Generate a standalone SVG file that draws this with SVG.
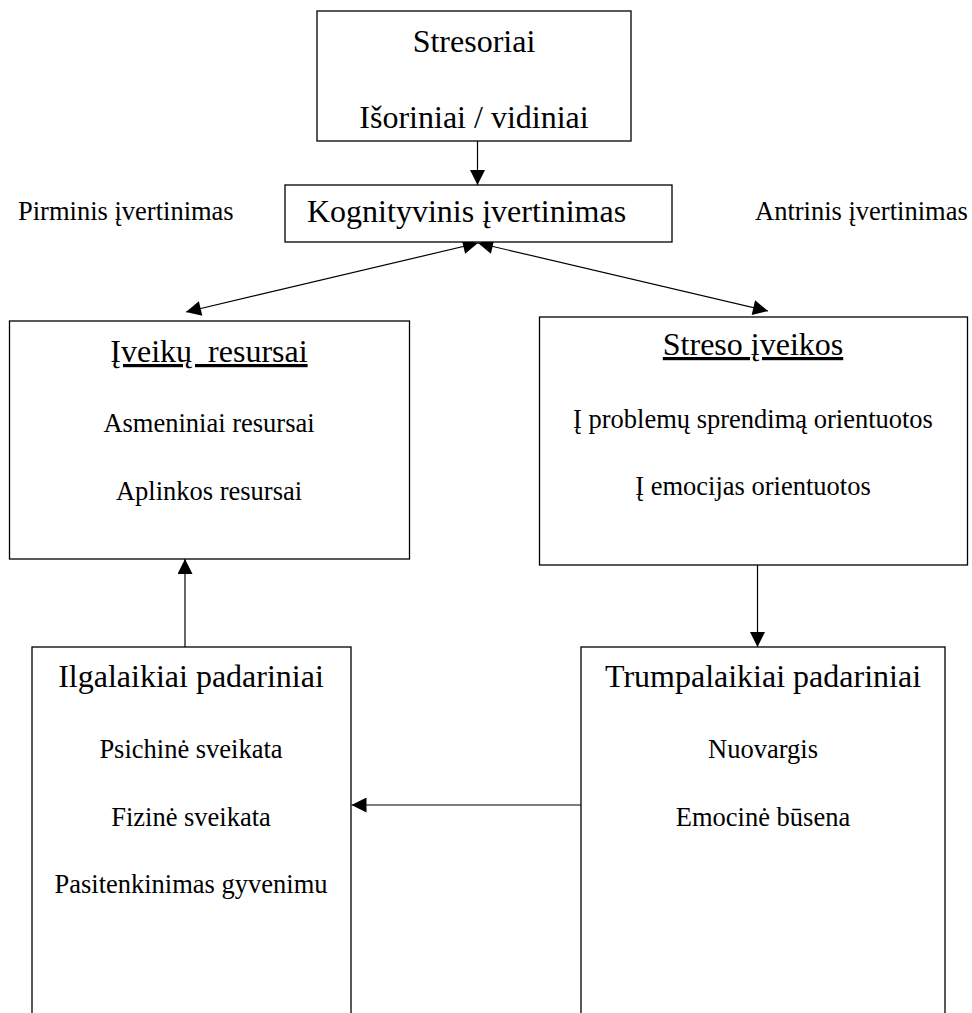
<svg xmlns="http://www.w3.org/2000/svg" width="972" height="1013" viewBox="0 0 972 1013">
  <style>
    .box { fill: #fff; stroke: #000; stroke-width: 1.3; }
    .link { fill: none; stroke: #000; stroke-width: 1.2; }
    .title { font-size: 32px; }
    .item { font-size: 26.5px; }
    .mid { text-anchor: middle; }
    .ul { text-decoration: underline; white-space: pre; }
  </style>
  <defs>
    <marker id="arrow" viewBox="0 0 10 10" refX="10" refY="5" markerUnits="userSpaceOnUse" markerWidth="17" markerHeight="15" orient="auto-start-reverse">
      <path d="M0,0 L10,5 L0,10 z" fill="#000"/>
    </marker>
  </defs>
  <rect width="972" height="1013" fill="#fff"/>

  <!-- connectors -->
  <g id="connectors">
    <line class="link" x1="477.5" y1="141" x2="477.5" y2="185" marker-end="url(#arrow)"/>
    <line class="link" x1="478" y1="243" x2="186" y2="312" marker-start="url(#arrow)" marker-end="url(#arrow)"/>
    <line class="link" x1="478" y1="243" x2="768" y2="311" marker-start="url(#arrow)" marker-end="url(#arrow)"/>
    <line class="link" x1="757.5" y1="565" x2="757.5" y2="647" marker-end="url(#arrow)"/>
    <line class="link" x1="185" y1="647" x2="185" y2="559" marker-end="url(#arrow)"/>
    <line class="link" x1="581" y1="805" x2="351.5" y2="805" marker-end="url(#arrow)"/>
  </g>

  <g font-family="'Liberation Serif', 'DejaVu Serif', serif" fill="#000">
    <!-- side labels -->
    <g id="label-pirminis">
      <text class="item" x="18" y="220">Pirminis įvertinimas</text>
    </g>
    <g id="label-antrinis">
      <text class="item" x="755" y="220">Antrinis įvertinimas</text>
    </g>

    <g id="stresoriai">
      <rect class="box" x="317" y="11" width="314" height="130"/>
      <text class="title mid" x="474" y="52">Stresoriai</text>
      <text class="title mid" x="474" y="128">Išoriniai / vidiniai</text>
    </g>

    <g id="kognityvinis">
      <rect class="box" x="285" y="185" width="387" height="57"/>
      <text class="title" x="307" y="222">Kognityvinis įvertinimas</text>
    </g>

    <g id="iveiku-resursai">
      <rect class="box" x="9.5" y="321" width="400" height="238"/>
      <text class="title mid ul" x="209" y="362">Įveikų  resursai</text>
      <text class="item mid" x="209" y="432">Asmeniniai resursai</text>
      <text class="item mid" x="209" y="500">Aplinkos resursai</text>
    </g>

    <g id="streso-iveikos">
      <rect class="box" x="539.5" y="317" width="428" height="248"/>
      <text class="title mid ul" x="753" y="355">Streso įveikos</text>
      <text class="item mid" x="753" y="428">Į problemų sprendimą orientuotos</text>
      <text class="item mid" x="753" y="495">Į emocijas orientuotos</text>
    </g>

    <g id="ilgalaikiai">
      <rect class="box" x="32" y="647" width="319" height="380"/>
      <text class="title mid" x="191" y="687">Ilgalaikiai padariniai</text>
      <text class="item mid" x="191" y="758">Psichinė sveikata</text>
      <text class="item mid" x="191" y="826">Fizinė sveikata</text>
      <text class="item mid" x="191" y="893">Pasitenkinimas gyvenimu</text>
    </g>

    <g id="trumpalaikiai">
      <rect class="box" x="581" y="647" width="364" height="380"/>
      <text class="title mid" x="763" y="687">Trumpalaikiai padariniai</text>
      <text class="item mid" x="763" y="758">Nuovargis</text>
      <text class="item mid" x="763" y="826">Emocinė būsena</text>
    </g>
  </g>
</svg>
